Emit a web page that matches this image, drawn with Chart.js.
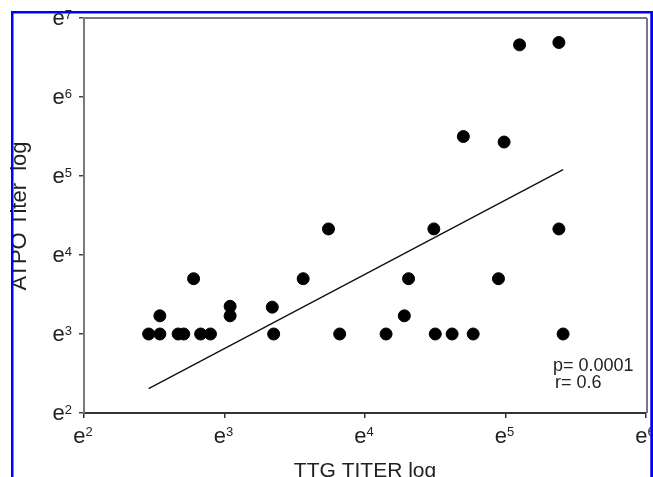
<!DOCTYPE html>
<html><head><meta charset="utf-8">
<script src="https://cdn.jsdelivr.net/npm/chart.js@4"></script>
<style>html,body{margin:0;padding:0;background:#fff;overflow:hidden}#wrap{width:653px;height:477px;position:relative}</style>
</head><body><div id="wrap"><canvas id="c" width="653" height="477"></canvas></div>
<script>
// values are natural-log exponents (axis shows e^n)
const ttgLog  = [2.46,2.54,2.54,2.67,2.71,2.78,2.83,2.90,3.04,3.04,3.34,3.35,3.56,3.74,3.82,
                 4.15,4.28,4.31,4.49,4.50,4.62,4.77,4.95,5.38,5.41,5.10,5.38,4.70,4.99];
const atpoLog = [3.00,3.00,3.23,3.00,3.00,3.70,3.00,3.00,3.35,3.23,3.34,3.00,3.70,4.33,3.00,
                 3.00,3.23,3.70,4.33,3.00,3.00,3.00,3.70,4.33,3.00,6.66,6.69,5.50,5.43];
const fitX = [2.46, 5.41];
const fitY = [2.31, 5.08];
const xTicks = [2,3,4,5,6];
const yTicks = [2,3,4,5,6,7];
const xTitle = 'TTG TITER log';
const yTitle = 'ATPO Titer  log';
const statsLines = ['p= 0.0001', 'r= 0.6'];

const FONT = "'Liberation Sans', Arial, sans-serif";

const deco = {
  id: 'deco',
  afterDraw(chart) {
    const ctx = chart.ctx, ca = chart.chartArea;
    const xs = chart.scales.x, ys = chart.scales.y;
    ctx.save();
    // frame top/right
    ctx.strokeStyle = '#7a7a7a'; ctx.lineWidth = 2;
    ctx.beginPath();
    ctx.moveTo(ca.left - 1, ca.top); ctx.lineTo(ca.right + 1, ca.top);
    ctx.moveTo(ca.right + 1, ca.top); ctx.lineTo(ca.right + 1, ca.bottom);
    ctx.stroke();
    ctx.fillStyle = '#222';
    // y tick labels
    yTicks.forEach(v => {
      const ty = ys.getPixelForValue(v);
      ctx.font = '22px ' + FONT;
      const we = ctx.measureText('e').width;
      ctx.font = '13px ' + FONT;
      const ws = ctx.measureText(String(v)).width;
      const right = ca.left - 12;
      ctx.font = '22px ' + FONT;
      ctx.textAlign = 'left'; ctx.textBaseline = 'alphabetic';
      ctx.fillText('e', right - we - ws, ty + 7);
      ctx.font = '13px ' + FONT;
      ctx.fillText(String(v), right - ws, ty + 1);
    });
    // x tick labels
    xTicks.forEach(v => {
      const tx = xs.getPixelForValue(v);
      ctx.font = '22px ' + FONT;
      const we = ctx.measureText('e').width;
      ctx.font = '13px ' + FONT;
      const ws = ctx.measureText(String(v)).width;
      const left = tx - 1 - (we + ws) / 2;
      ctx.font = '22px ' + FONT;
      ctx.textAlign = 'left'; ctx.textBaseline = 'alphabetic';
      ctx.fillText('e', left, ca.bottom + 30);
      ctx.font = '13px ' + FONT;
      ctx.fillText(String(v), left + we, ca.bottom + 23);
    });
    // stats
    ctx.font = '18px ' + FONT;
    ctx.textAlign = 'left';
    ctx.fillText(statsLines[0], 553, 371);
    ctx.fillText(statsLines[1], 555, 388);
    // axis titles
    ctx.font = '21px ' + FONT;
    ctx.textAlign = 'center';
    ctx.fillText(xTitle, (ca.left + ca.right) / 2, 477);
    ctx.save();
    ctx.translate(26, 216);
    ctx.rotate(-Math.PI / 2);
    ctx.font = '22px ' + FONT;
    ctx.fillText(yTitle, 0, 0);
    ctx.restore();
    // blue border
    ctx.fillStyle = '#0000ff';
    ctx.fillRect(11, 11, 642, 2.5);
    ctx.fillRect(11, 11, 2.5, 466);
    ctx.fillRect(650.3, 11, 2.7, 466);
    ctx.restore();
  }
};

new Chart(document.getElementById('c'), {
  type: 'scatter',
  data: {
    datasets: [
      {
        data: ttgLog.map((x, i) => ({x, y: atpoLog[i]})),
        backgroundColor: '#000', borderColor: '#000', pointRadius: 6, pointHoverRadius: 6
      },
      {
        type: 'line',
        data: fitX.map((x, i) => ({x, y: fitY[i]})),
        borderColor: '#111', borderWidth: 1.4, pointRadius: 0, fill: false, showLine: true
      }
    ]
  },
  plugins: [deco],
  options: {
    responsive: false, animation: false, devicePixelRatio: 1,
    layout: { padding: { left: 79, right: 6, top: 18, bottom: 59 } },
    plugins: { legend: { display: false }, tooltip: { enabled: false } },
    scales: {
      x: {
        type: 'linear', min: 2, max: 6,
        afterBuildTicks: s => { s.ticks = xTicks.map(v => ({value: v})); },
        ticks: { display: false },
        grid: { drawOnChartArea: false, drawTicks: true, tickLength: 5, color: '#333', lineWidth: 1.5 },
        border: { display: true, color: '#333', width: 2 }
      },
      y: {
        type: 'linear', min: 2, max: 7,
        afterBuildTicks: s => { s.ticks = yTicks.map(v => ({value: v})); },
        ticks: { display: false },
        grid: { drawOnChartArea: false, drawTicks: true, tickLength: 5, color: '#444', lineWidth: 1.5 },
        border: { display: true, color: '#7a7a7a', width: 2 }
      }
    }
  }
});
</script></body></html>
